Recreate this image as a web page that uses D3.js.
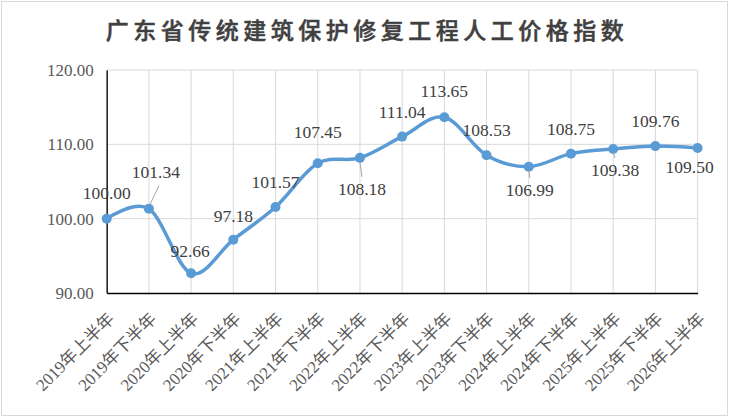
<!DOCTYPE html>
<html><head><meta charset="utf-8">
<script src="https://cdn.jsdelivr.net/npm/d3@7"></script>
<style>
html,body{margin:0;padding:0;background:#fff;}
text{font-family:"Liberation Serif","Times New Roman","Noto Sans CJK SC",serif;}
</style></head>
<body><svg id="c" width="730" height="418"></svg>
<script>
const title = "广东省传统建筑保护修复工程人工价格指数";
const categories = ["2019年上半年","2019年下半年","2020年上半年","2020年下半年","2021年上半年","2021年下半年","2022年上半年","2022年下半年","2023年上半年","2023年下半年","2024年上半年","2024年下半年","2025年上半年","2025年下半年","2026年上半年"];
const values = [100.00,101.34,92.66,97.18,101.57,107.45,108.18,111.04,113.65,108.53,106.99,108.75,109.38,109.76,109.50];
const yTicks = [90,100,110,120];

// label layout: [dx, dy(baseline rel. to point), leader]
const labelLayout = [[0,-20,0],[7,-31,1],[-1,-16,0],[0,-18,0],[0,-19,0],[0,-25,0],[2,37,1],[0,-19,0],[0,-20,0],[0,-19,0],[1,29,1],[0,-19,0],[2,27,1],[0,-19,0],[-8,25,0]];

const svg = d3.select("#c");
svg.append("rect").attr("x",1.5).attr("y",1.5).attr("width",726).attr("height",414)
  .attr("fill","#fff").attr("stroke","#d9d9d9");

const x = d3.scalePoint().domain(categories).range([106.7,697.6]);
const y = d3.scaleLinear().domain([90,120]).range([293,70]);

// title
svg.append("text").attr("x",367).attr("y",39).attr("text-anchor","middle")
  .style("font-family","'Noto Sans CJK SC'").style("font-size","23px").style("font-weight","500")
  .style("letter-spacing","4.5px").attr("fill","#404040")
  .attr("stroke","#404040").attr("stroke-width",0.5).text(title);

// gridlines
const g = svg.append("g");
g.selectAll(".hg").data(yTicks.filter(d=>d>90)).enter().append("line")
  .attr("x1",x.range()[0]).attr("x2",x.range()[1]).attr("y1",d=>y(d)).attr("y2",d=>y(d))
  .attr("stroke","#d9d9d9").attr("stroke-width",1);
g.selectAll(".vg").data(categories).enter().append("line")
  .attr("x1",d=>x(d)).attr("x2",d=>x(d)).attr("y1",y(120)).attr("y2",y(90))
  .attr("stroke","#d9d9d9").attr("stroke-width",1);

// axes
const yAxis = d3.axisLeft(y).tickValues(yTicks).tickSize(0).tickPadding(13).tickFormat(d3.format(".2f"));
const ya = svg.append("g").attr("transform",`translate(${x.range()[0]},0)`).call(yAxis);
ya.select(".domain").attr("stroke","#000").attr("stroke-width",1.3);
ya.selectAll("text").style("font-size","17px").attr("fill","#595959").style("font-family","'Liberation Serif'");

const xAxis = d3.axisBottom(x).tickSize(0).tickFormat(d=>d);
const xa = svg.append("g").attr("transform",`translate(0,${y(90)})`).call(xAxis);
xa.select(".domain").attr("stroke","#000").attr("stroke-width",1.3);
xa.selectAll("text").attr("text-anchor","end").attr("dy",0).attr("y",0)
  .attr("transform","translate(8,27) rotate(-45)")
  .style("font-size","17px").attr("fill","#595959")
  .style("font-family","'Liberation Serif','Noto Sans CJK SC'");

// line
const line = d3.line().x((d,i)=>x(categories[i])).y(d=>y(d)).curve(d3.curveCardinal.tension(0));
svg.append("path").datum(values).attr("d",line).attr("fill","none")
  .attr("stroke","#5b9bd5").attr("stroke-width",3.5).attr("stroke-linejoin","round");
svg.selectAll(".pt").data(values).enter().append("circle")
  .attr("cx",(d,i)=>x(categories[i])).attr("cy",d=>y(d)).attr("r",5).attr("fill","#5b9bd5");

// leader lines
values.forEach((v,i)=>{
  const L = labelLayout[i];
  if(!L[2]) return;
  const px = x(categories[i]), py = y(v);
  if(L[1] < 0){
    svg.append("line").attr("x1",px+1).attr("y1",py-4).attr("x2",px+L[0]+3).attr("y2",py+L[1]+8)
      .attr("stroke","#a6a6a6").attr("stroke-width",1);
  } else {
    svg.append("line").attr("x1",px).attr("y1",py+4).attr("x2",px+L[0]).attr("y2",py+L[1]-18)
      .attr("stroke","#a6a6a6").attr("stroke-width",1);
  }
});

// labels
svg.selectAll(".lbl").data(values).enter().append("text")
  .attr("x",(d,i)=>x(categories[i])+labelLayout[i][0])
  .attr("y",(d,i)=>y(d)+labelLayout[i][1])
  .attr("text-anchor","middle").style("font-size","17.5px").attr("fill","#404040")
  .style("font-family","'Liberation Serif'")
  .text(d=>d3.format(".2f")(d));
</script></body></html>
